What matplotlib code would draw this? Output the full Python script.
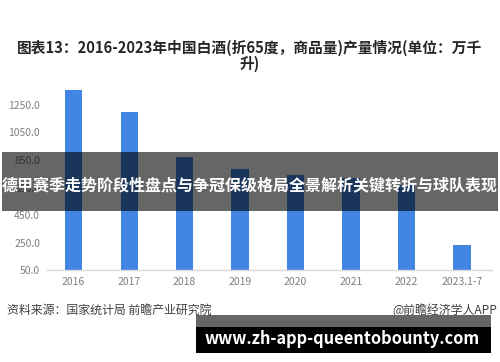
# plot.py
# baijiu production bar chart with overlay banners

import matplotlib.pyplot as plt
from matplotlib.patches import Rectangle

plt.rcParams['font.family'] = ['Noto Sans CJK SC', 'DejaVu Sans']

# data
years = ['2016', '2017', '2018', '2019', '2020', '2021', '2022', '2023.1-7']
output = [1358.4, 1198.1, 871.2, 785.9, 740.7, 715.6, 671.2, 229.0]
y_ticks = [50, 250, 450, 650, 850, 1050, 1250]

title = '图表13：2016-2023年中国白酒(折65度，商品量)产量情况(单位：万千\n升)'
source = '资料来源：国家统计局 前瞻产业研究院'
credit = '@前瞻经济学人APP'
banner = '德甲赛季走势阶段性盘点与争冠保级格局全景解析关键转折与球队表现'
url = 'www.zh-app-queentobounty.com'

fig = plt.figure(figsize=(5, 3.62), dpi=100)
ax = fig.add_axes([0.094, 0.254, 0.89, 0.513])

x = range(len(years))
ax.bar(x, output, width=0.31, bottom=0, color='#4285e3', zorder=2)
ax.set_ylim(50, 1400)
ax.set_xlim(-0.48, 7.54)
ax.set_yticks(y_ticks)
ax.set_yticklabels([f'{v:.1f}' for v in y_ticks])
ax.set_xticks(list(x))
ax.set_xticklabels(years)
ax.tick_params(length=0, labelsize=7.5, colors='#7f7f7f', pad=5)

for side in ['top', 'right', 'left']:
    ax.spines[side].set_visible(False)
ax.spines['bottom'].set_color('#d9d9d9')
ax.spines['bottom'].set_linewidth(1)

# title and footer texts
fig.text(0.5, 1 - 56 / 362, title, ha='center', va='center', fontsize=10.6,
         fontweight='bold', color='#262626', linespacing=0.95)
fig.text(0.014, 1 - 310 / 362, source, ha='left', va='center', fontsize=8.6, color='#404040')
fig.text(0.994, 1 - 310 / 362, credit, ha='right', va='center', fontsize=8.6, color='#404040')

# dark banner across the middle
fig.patches.append(Rectangle((0.004, 1 - 211 / 362), 0.992, 59 / 362, transform=fig.transFigure,
                             facecolor='black', edgecolor='none', alpha=0.6, zorder=5))
fig.text(0.5, 1 - 185 / 362, banner, ha='center', va='center', fontsize=11.5,
         fontweight='bold', color='white', zorder=6)

# url box at the bottom
fig.patches.append(Rectangle((196 / 500, 1 - 353 / 362), 295 / 500, 38 / 362,
                             transform=fig.transFigure, facecolor='#666666', edgecolor='none', zorder=5))
fig.patches.append(Rectangle((196 / 500, 1 - 353 / 362), 295 / 500, 26 / 362,
                             transform=fig.transFigure, facecolor='black', edgecolor='none', zorder=6))
fig.text(342 / 500, 1 - 339 / 362, url, ha='center', va='center', fontsize=11.8,
         fontweight='bold', color='white', zorder=7)

fig.savefig('out.png', dpi=100)
